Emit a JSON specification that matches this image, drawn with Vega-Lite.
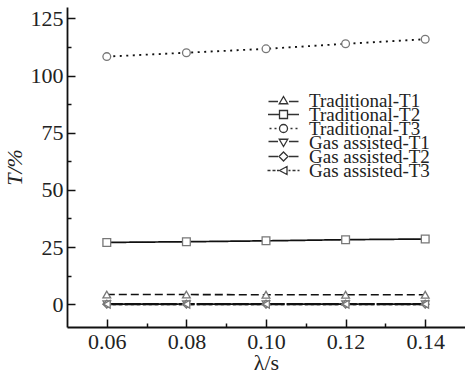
{
  "$schema": "https://vega.github.io/schema/vega-lite/v6.json",
  "width": 398,
  "height": 320,
  "autosize": {"type": "none"},
  "padding": {"left": 67, "top": 7, "right": 0, "bottom": 49},
  "background": "white",
  "config": {
    "view": {"stroke": null},
    "font": "Liberation Serif",
    "axis": {
      "domainColor": "#111",
      "domainWidth": 1.8,
      "tickColor": "#111",
      "tickWidth": 1.5,
      "grid": false,
      "labelFont": "Liberation Serif",
      "labelFontSize": 22,
      "labelColor": "#222",
      "titleFont": "Liberation Serif",
      "titleFontSize": 22,
      "titleFontWeight": "normal",
      "titleColor": "#222"
    },
    "legend": {
      "title": null,
      "orient": "none",
      "padding": 0,
      "symbolSize": 100,
      "symbolStrokeWidth": 1.3,
      "symbolStrokeColor": "#333",
      "symbolFillColor": "transparent",
      "symbolOpacity": 1,
      "labelOffset": 16,
      "labelFont": "Liberation Serif",
      "labelFontSize": 19,
      "labelColor": "#222",
      "rowPadding": 8,
      "labelLimit": 300
    }
  },
  "data": {
    "values": [
      {"x": 0.06, "T": 4.2, "series": "Traditional-T1"},
      {"x": 0.08, "T": 4.2, "series": "Traditional-T1"},
      {"x": 0.10, "T": 4.1, "series": "Traditional-T1"},
      {"x": 0.12, "T": 4.1, "series": "Traditional-T1"},
      {"x": 0.14, "T": 4.1, "series": "Traditional-T1"},
      {"x": 0.06, "T": 27.0, "series": "Traditional-T2"},
      {"x": 0.08, "T": 27.3, "series": "Traditional-T2"},
      {"x": 0.10, "T": 27.7, "series": "Traditional-T2"},
      {"x": 0.12, "T": 28.2, "series": "Traditional-T2"},
      {"x": 0.14, "T": 28.5, "series": "Traditional-T2"},
      {"x": 0.06, "T": 108.3, "series": "Traditional-T3"},
      {"x": 0.08, "T": 110.0, "series": "Traditional-T3"},
      {"x": 0.10, "T": 111.7, "series": "Traditional-T3"},
      {"x": 0.12, "T": 113.9, "series": "Traditional-T3"},
      {"x": 0.14, "T": 115.9, "series": "Traditional-T3"},
      {"x": 0.06, "T": 0.0, "series": "Gas assisted-T1"},
      {"x": 0.08, "T": 0.0, "series": "Gas assisted-T1"},
      {"x": 0.10, "T": 0.0, "series": "Gas assisted-T1"},
      {"x": 0.12, "T": 0.0, "series": "Gas assisted-T1"},
      {"x": 0.14, "T": 0.0, "series": "Gas assisted-T1"},
      {"x": 0.06, "T": 0.0, "series": "Gas assisted-T2"},
      {"x": 0.08, "T": 0.0, "series": "Gas assisted-T2"},
      {"x": 0.10, "T": 0.0, "series": "Gas assisted-T2"},
      {"x": 0.12, "T": 0.0, "series": "Gas assisted-T2"},
      {"x": 0.14, "T": 0.0, "series": "Gas assisted-T2"},
      {"x": 0.06, "T": 0.0, "series": "Gas assisted-T3"},
      {"x": 0.08, "T": 0.0, "series": "Gas assisted-T3"},
      {"x": 0.10, "T": 0.0, "series": "Gas assisted-T3"},
      {"x": 0.12, "T": 0.0, "series": "Gas assisted-T3"},
      {"x": 0.14, "T": 0.0, "series": "Gas assisted-T3"}
    ]
  },
  "encoding": {
    "x": {
      "field": "x", "type": "quantitative",
      "scale": {"domain": [0.05, 0.15], "nice": false, "zero": false},
      "axis": {
        "title": "λ/s",
        "titlePadding": 0,
        "values": [0.06, 0.07, 0.08, 0.09, 0.10, 0.11, 0.12, 0.13, 0.14],
        "labelExpr": "round(datum.value*100) % 2 == 0 ? format(datum.value, '.2f') : ''",
        "tickSize": {"condition": {"test": "round(datum.value*100) % 2 == 0", "value": -8}, "value": -4},
        "labelPadding": 12
      }
    },
    "y": {
      "field": "T", "type": "quantitative",
      "scale": {"domain": [-10, 130], "nice": false, "zero": false},
      "axis": {
        "title": "T/%",
        "titleFontStyle": "italic",
        "titlePadding": 4,
        "values": [0, 12.5, 25, 37.5, 50, 62.5, 75, 87.5, 100, 112.5, 125],
        "labelExpr": "datum.value % 25 == 0 ? format(datum.value, 'd') : ''",
        "tickSize": {"condition": {"test": "datum.value % 25 == 0", "value": -8}, "value": -4},
        "labelPadding": 12
      }
    }
  },
  "layer": [
    {
      "mark": {"type": "line", "color": "#111"},
      "encoding": {
        "detail": {"field": "series"},
        "strokeDash": {
          "field": "series", "type": "nominal", "legend": null,
          "scale": {
            "domain": ["Traditional-T1", "Traditional-T2", "Traditional-T3", "Gas assisted-T1", "Gas assisted-T2", "Gas assisted-T3"],
            "range": [[8, 4], [1, 0], [2, 4.5], [12, 3], [16, 2], [3, 3]]
          }
        },
        "strokeWidth": {
          "field": "series", "type": "nominal", "legend": null,
          "scale": {
            "domain": ["Traditional-T1", "Traditional-T2", "Traditional-T3", "Gas assisted-T1", "Gas assisted-T2", "Gas assisted-T3"],
            "range": [1.6, 2.2, 2, 1.5, 1.5, 1.2]
          }
        }
      }
    },
    {
      "mark": {"type": "point", "filled": true, "fill": "white", "stroke": "#777", "strokeWidth": 1.3, "size": 60, "opacity": 1},
      "encoding": {
        "shape": {
          "field": "series", "type": "nominal", "legend": null,
          "scale": {
            "domain": ["Traditional-T1", "Traditional-T2", "Traditional-T3", "Gas assisted-T1", "Gas assisted-T2", "Gas assisted-T3"],
            "range": ["triangle-up", "square", "circle", "triangle-down", "diamond", "triangle-left"]
          }
        }
      }
    },
    {
      "transform": [{"filter": "datum.T > 1000"}],
      "mark": {"type": "point", "filled": false, "stroke": "#333", "strokeWidth": 1.3, "size": 100, "opacity": 1},
      "encoding": {
        "shape": {
          "field": "series", "type": "nominal",
          "scale": {
            "domain": ["Traditional-T1", "Traditional-T3", "Gas assisted-T2"],
            "range": [
              "M-3,0.2H-1.1M1.1,0.2H3M0,-0.8L0.85,0.65L-0.85,0.65Z",
              "M-2.8,0H-2.4M-1.8,0H-1.4M1.4,0H1.8M2.4,0H2.8M0.8,0A0.8,0.8 0 1,1 -0.8,0A0.8,0.8 0 1,1 0.8,0Z",
              "M-3,0H-1.1M1.1,0H3M0,-0.9L0.9,0L0,0.9L-0.9,0Z"
            ]
          },
          "legend": {"legendX": 207, "legendY": 84}
        }
      }
    },
    {
      "transform": [{"filter": "datum.T > 1000"}],
      "mark": {"type": "point", "filled": false, "stroke": "#333", "strokeWidth": 1.3, "size": 100, "opacity": 1},
      "encoding": {
        "shape": {
          "field": "series", "type": "nominal",
          "scale": {
            "domain": ["Traditional-T2", "Gas assisted-T1", "Gas assisted-T3"],
            "range": [
              "M-3.1,0H-0.8M0.8,0H3.1M-0.8,-0.8H0.8V0.8H-0.8Z",
              "M-3,-0.2H-1.1M1.1,-0.2H3M0,0.8L0.85,-0.65L-0.85,-0.65Z",
              "M-3.2,0H-2.6M-2.2,0H-1.6M-1.3,0H-0.9M-0.8,0L0.7,-0.8L0.7,0.8ZM1.0,0H1.4M1.8,0H2.4M2.8,0H3.2"
            ]
          },
          "legend": {"legendX": 207, "legendY": 98}
        }
      }
    }
  ],
  "resolve": {"scale": {"shape": "independent"}, "legend": {"shape": "independent"}}
}
